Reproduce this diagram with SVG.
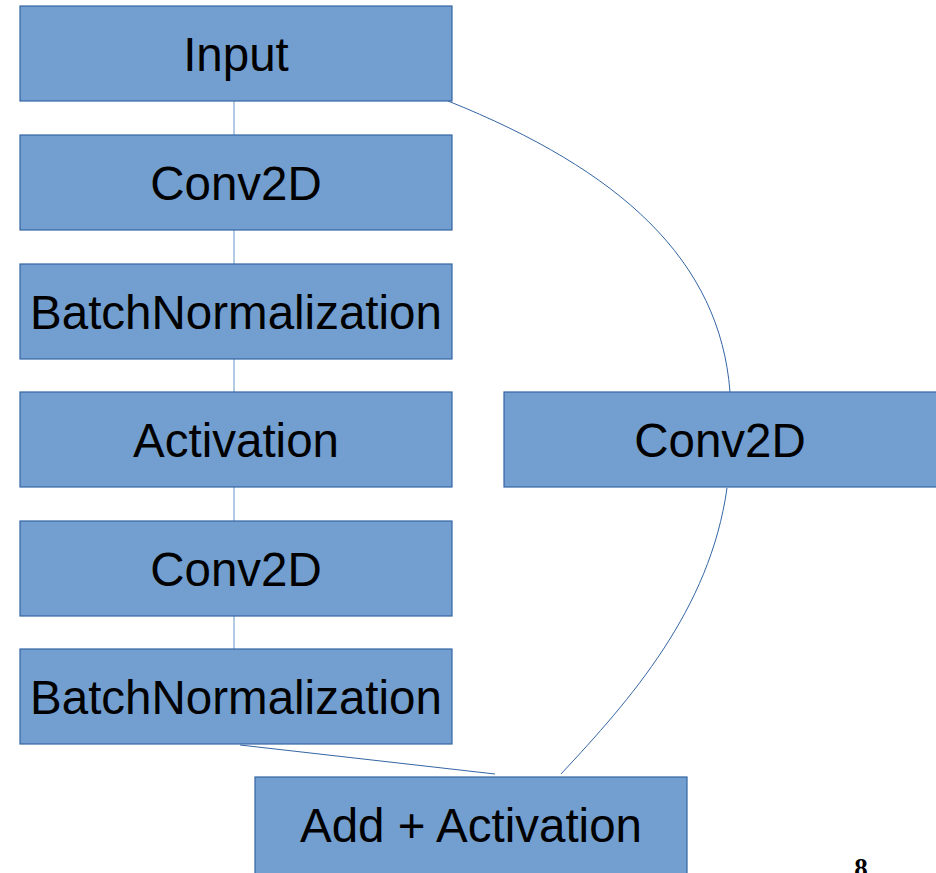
<svg xmlns="http://www.w3.org/2000/svg" width="936" height="873" viewBox="0 0 936 873">
<style>
.box{fill:#729fcf;stroke:#3465a4;stroke-width:1.2}
.lbl{font-family:"Liberation Sans",Arial,sans-serif;font-size:47.5px;fill:#000;text-anchor:middle}
.vc{stroke:#8aaed6;stroke-width:1.3;fill:none}
.cc{stroke:#3465a4;stroke-width:1;fill:none}
</style>
<rect width="936" height="873" fill="#fff"/>
<g id="connectors">
<line class="vc" x1="234" y1="101" x2="234" y2="135"/>
<line class="vc" x1="234" y1="230" x2="234" y2="264"/>
<line class="vc" x1="234" y1="359" x2="234" y2="392"/>
<line class="vc" x1="234" y1="487" x2="234" y2="521"/>
<line class="vc" x1="234" y1="616" x2="234" y2="649"/>
<path class="cc" d="M448,101 C620,170 720,260 730,392"/>
<path class="cc" d="M727,488 C710,610 630,700 561,774"/>
<line class="cc" x1="240" y1="745" x2="495" y2="774"/>
</g>
<g id="input"><rect class="box" x="20" y="6" width="432" height="95"/><text class="lbl" x="236" y="71">Input</text></g>
<g id="conv1"><rect class="box" x="20" y="135" width="432" height="95"/><text class="lbl" x="236" y="200">Conv2D</text></g>
<g id="bn1"><rect class="box" x="20" y="264" width="432" height="95"/><text class="lbl" x="236" y="329">BatchNormalization</text></g>
<g id="act"><rect class="box" x="20" y="392" width="432" height="95"/><text class="lbl" x="236" y="457">Activation</text></g>
<g id="conv2"><rect class="box" x="20" y="521" width="432" height="95"/><text class="lbl" x="236" y="586">Conv2D</text></g>
<g id="bn2"><rect class="box" x="20" y="649" width="432" height="95"/><text class="lbl" x="236" y="714">BatchNormalization</text></g>
<g id="conv3"><rect class="box" x="504" y="392" width="440" height="95"/><text class="lbl" x="720" y="457">Conv2D</text></g>
<g id="add"><rect class="box" x="255" y="777" width="432" height="105"/><text class="lbl" x="471" y="842">Add + Activation</text></g>
<text x="861" y="877" font-family="'Liberation Serif',serif" font-size="27" font-weight="bold" text-anchor="middle" fill="#000">8</text>
</svg>
